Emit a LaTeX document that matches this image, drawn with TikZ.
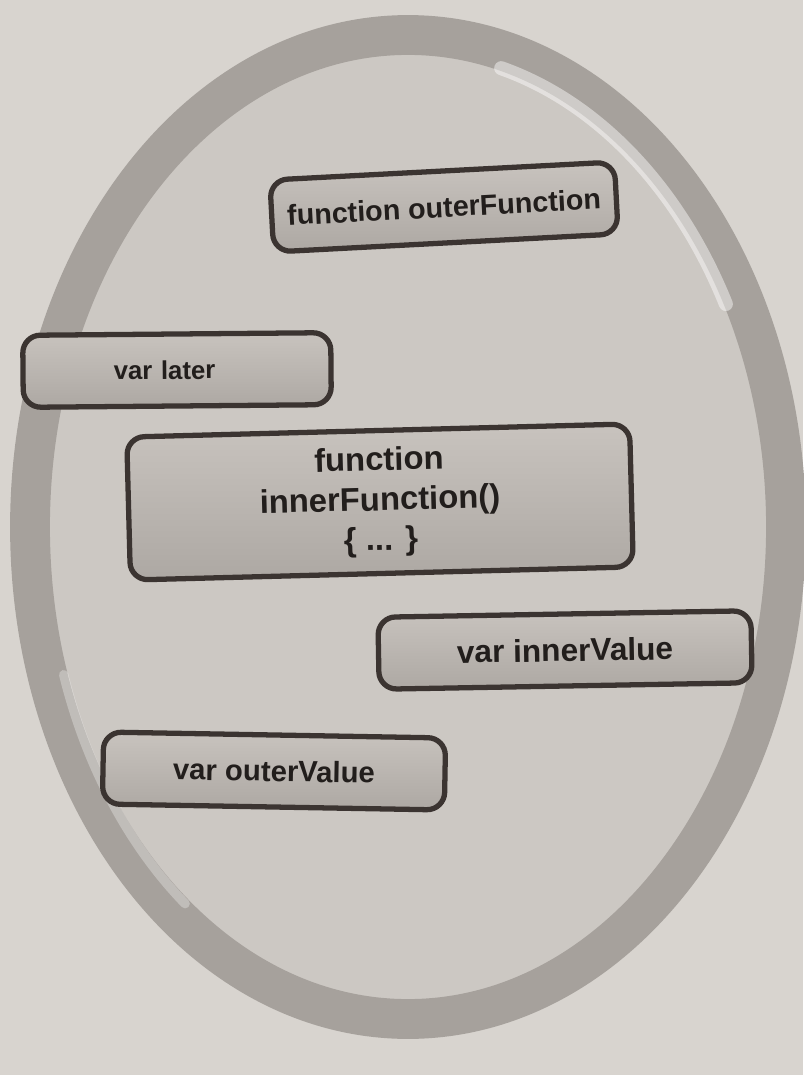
\documentclass[tikz,border=0pt]{standalone}
\usepackage{fontspec}
\setmainfont{Liberation Sans}
\usepackage{tikz}
\usetikzlibrary{positioning, calc, shadings}

\definecolor{paper}{HTML}{D8D4CF}
\definecolor{scopein}{HTML}{CCC8C3}
\definecolor{ringgray}{HTML}{A6A19C}
\definecolor{boxline}{HTML}{3B3431}
\definecolor{boxtop}{HTML}{C8C3BE}
\definecolor{boxbot}{HTML}{ADA8A3}
\definecolor{ink}{HTML}{221E1C}

\newcommand{\bfsize}[1]{\bfseries\fontsize{#1}{1.22\dimexpr#1pt\relax}\selectfont}

\begin{document}
\begin{tikzpicture}[
    x=0.03cm, y=-0.03cm,
    every node/.style={font=\bfsize{24}, text=ink},
    box/.style={rectangle, draw=boxline, line width=4.5pt, rounded corners=15pt,
                align=center, top color=boxtop, bottom color=boxbot,
                minimum height=2.16cm, inner sep=2pt},
    bigbox/.style={box, font=\bfsize{28}},
    ring/.style={draw=ringgray, line width=34pt},
    gleam/.style={draw=white, line cap=round, opacity=0.45}
]
\useasboundingbox[fill=paper] (0,0) rectangle (803,1075);

% the scope circle
\fill[scopein] (408,527) ellipse[x radius=378, y radius=492];
\draw[ring] (408,527) ellipse[x radius=378, y radius=492];
\draw[gleam, line width=12pt] (408,527) ++(-75:360 and 475)
    arc[start angle=-75, end angle=-28, x radius=360, y radius=475];
\draw[gleam, line width=8pt, opacity=0.3] (408,527) ++(128:362 and 478)
    arc[start angle=128, end angle=162, x radius=362, y radius=478];

\node[box, minimum width=10.35cm, rotate=3, font=\bfsize{24.5}] (outerfn) at (444,207) {function outerFunction};
\node[box, minimum width=9.24cm, rotate=0.5, font=\bfsize{22}, text width=8.5cm, align=left] (later) at (177,370)
    {\hspace*{2.35cm}var later};
\node[bigbox, minimum width=15.09cm, minimum height=4.29cm, rotate=1.5] (innerfn) at (380,502)
    {function\\innerFunction()\\\{ ... \}};
\node[box, minimum width=11.19cm, rotate=1, font=\bfsize{27}] (innerval) at (565,650) {var innerValue};
\node[box, minimum width=10.26cm, rotate=-1, font=\bfsize{25}] (outerval) at (274,771) {var outerValue};
\end{tikzpicture}
\end{document}
